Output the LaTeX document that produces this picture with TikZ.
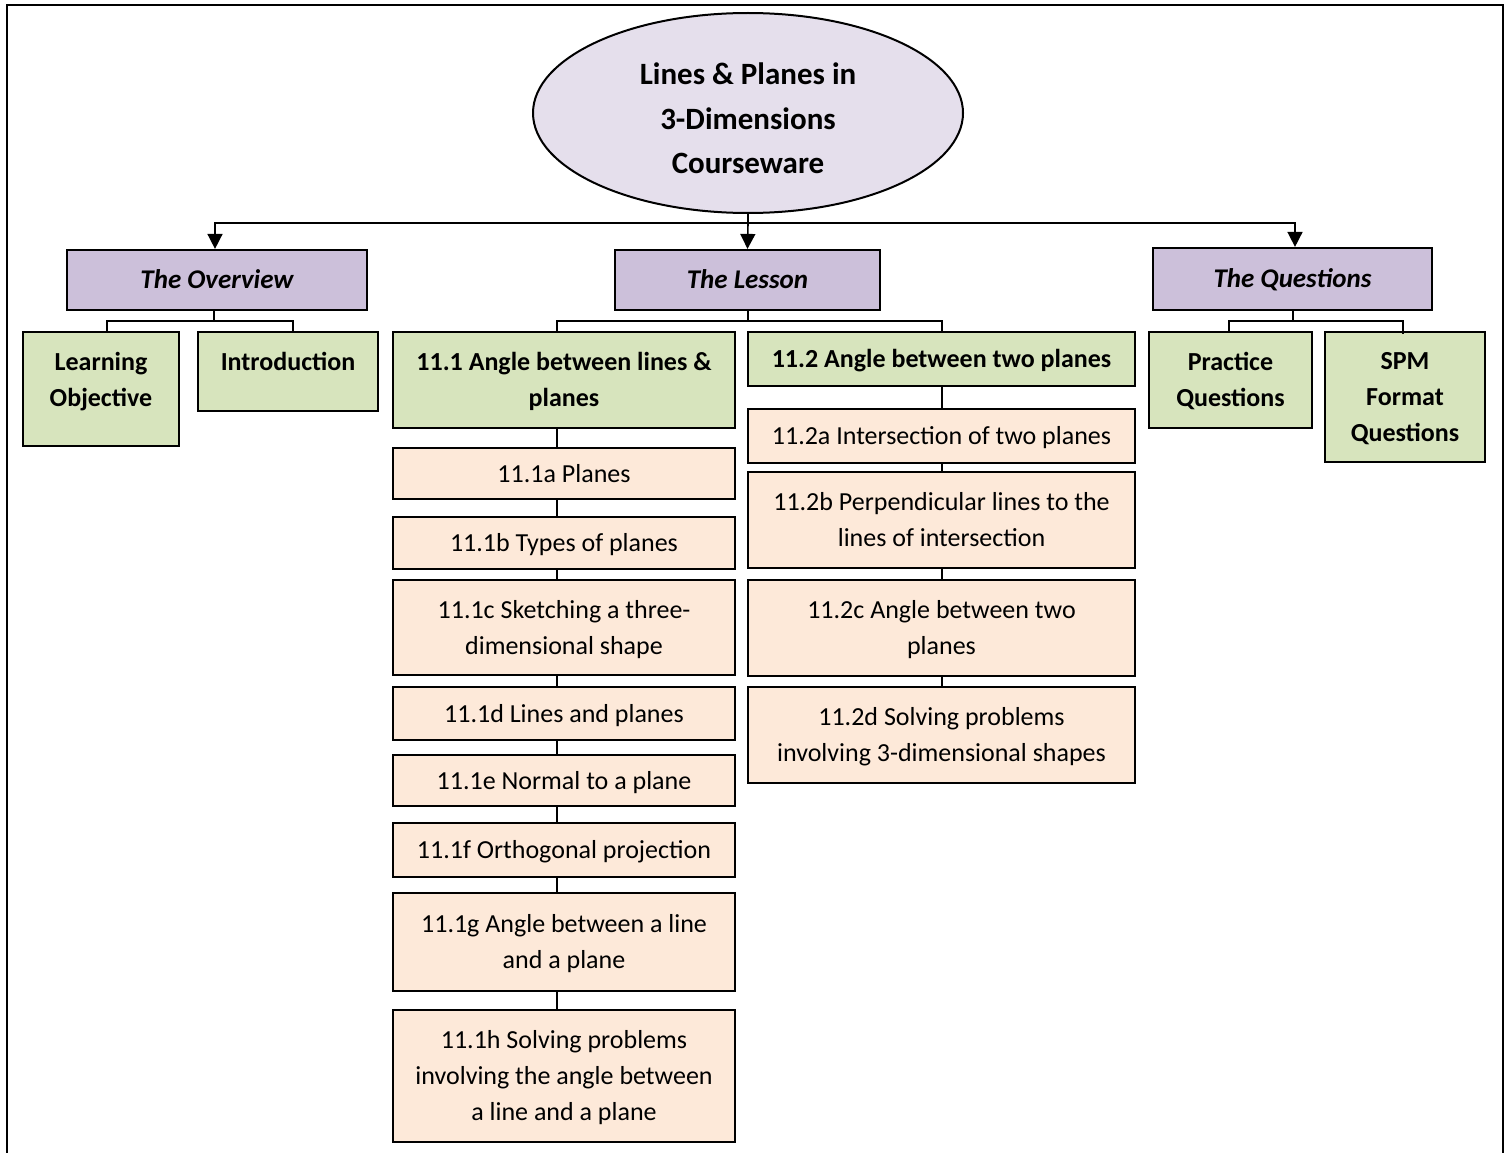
\documentclass[tikz,border=0pt]{standalone}
\usepackage{fontspec}
\setmainfont{Carlito}
\usetikzlibrary{shapes.geometric,arrows.meta}

\definecolor{rootfill}{HTML}{E5DFEC}
\definecolor{headfill}{HTML}{CCC0DA}
\definecolor{topicfill}{HTML}{D7E4BD}
\definecolor{subfill}{HTML}{FDE9D9}

% box given by its corners (left, top, right, bottom), y measured downwards
\newcommand\boxat[7]{%
  \node[#6, minimum width={#4-#2}, minimum height={#5-#3}]
    (#1) at ({(#2+#4)/2},{(#3+#5)/2}) {#7};}

\tikzset{
  box/.style={draw, line width=2.2pt, align=center, inner sep=0pt,
    font=\fontsize{26}{36}\selectfont, oneline},
  % fixed text boxes so every line sits on the same baseline grid
  oneline/.style={text height=17pt, text depth=0pt},
  twolines/.style={text height=53pt, text depth=0pt},
  threelines/.style={text height=89pt, text depth=0pt},
  headbox/.style={box, fill=headfill, font=\fontsize{27}{36}\selectfont\bfseries\itshape},
  topicbox/.style={box, fill=topicfill, font=\fontsize{26}{36}\selectfont\bfseries},
  subbox/.style={box, fill=subfill},
  plaintext/.style={align=center, inner sep=0pt, font=\fontsize{26}{36}\selectfont\bfseries},
  link/.style={line width=1.6pt},
  arr/.style={link, -{Triangle[length=15pt, width=15pt]}},
}

\begin{document}
\begin{tikzpicture}[x=1pt, y=-1pt]
\useasboundingbox (0,0) rectangle (1509,1153);

% page frame, open at the bottom
\draw[line width=2pt] (7,1160) -- (7,5) -- (1503,5) -- (1503,1160);

% root
\node[ellipse, draw, line width=2pt, fill=rootfill, minimum width=430, minimum height=200,
  inner sep=0pt, align=center, text height=121pt, text depth=0pt,
  font=\fontsize{31}{44.5}\selectfont\bfseries]
  (root) at (748,113) {Lines \& Planes in\\3-Dimensions\\Courseware};

% main sections
\boxat{ov}{67}{250}{367}{310}{headbox}{The Overview}
\boxat{les}{615}{250}{880}{310}{headbox}{The Lesson}
\boxat{qu}{1153}{248}{1432}{310}{headbox}{The Questions}

% overview topics (text set at the top of the box)
\boxat{lo}{23}{332}{179}{446}{topicbox}{}
\node[plaintext, twolines] (lotext) at (101,380) {Learning\\Objective};
\boxat{intro}{198}{332}{378}{411}{topicbox}{}
\node[plaintext, oneline] (introtext) at (288,362) {Introduction};

% lesson topics
\boxat{s11}{393}{332}{735}{428}{topicbox, twolines}{11.1 Angle between lines \&\\planes}
\boxat{s12}{748}{332}{1135}{386}{topicbox}{11.2 Angle between two planes}

% question topics
\boxat{pq}{1149}{332}{1312}{428}{topicbox, twolines}{Practice\\Questions}
\boxat{spm}{1325}{332}{1485}{462}{topicbox, threelines}{SPM\\Format\\Questions}

% 11.1 subtopics
\boxat{a1}{393}{448}{735}{499}{subbox}{11.1a Planes}
\boxat{b1}{393}{517}{735}{569}{subbox}{11.1b Types of planes}
\boxat{c1}{393}{580}{735}{675}{subbox, twolines}{11.1c Sketching a three-\\dimensional shape}
\boxat{d1}{393}{687}{735}{740}{subbox}{11.1d Lines and planes}
\boxat{e1}{393}{755}{735}{806}{subbox}{11.1e Normal to a plane}
\boxat{f1}{393}{823}{735}{877}{subbox}{11.1f Orthogonal projection}
\boxat{g1}{393}{893}{735}{991}{subbox, twolines}{11.1g Angle between a line\\and a plane}
\boxat{h1}{393}{1010}{735}{1142}{subbox, threelines}{11.1h Solving problems\\involving the angle between\\a line and a plane}

% 11.2 subtopics
\boxat{a2}{748}{409}{1135}{463}{subbox}{11.2a Intersection of two planes}
\boxat{b2}{748}{472}{1135}{568}{subbox, twolines}{11.2b Perpendicular lines to the\\lines of intersection}
\boxat{c2}{748}{580}{1135}{676}{subbox, twolines}{11.2c Angle between two\\planes}
\boxat{d2}{748}{687}{1135}{783}{subbox, twolines}{11.2d Solving problems\\involving 3-dimensional shapes}

% connector positions
\coordinate (bus) at (748,223);
\coordinate (xov) at (215,0);
\coordinate (xqu) at (1295,0);
\coordinate (xlo) at (107,0);
\coordinate (xin) at (293,0);
\coordinate (xs1) at (557,0);
\coordinate (xs2) at (942,0);
\coordinate (xpq) at (1229,0);
\coordinate (xsp) at (1403,0);
\coordinate (ovj) at (214,321);
\coordinate (lej) at (748,321);
\coordinate (quj) at (1293,321);

% root to sections
\draw[link] (root.south) -- (bus);
\draw[arr] (bus) -| (ov.north -| xov);
\draw[arr] (bus) -- (les.north);
\draw[arr] (bus) -| (qu.north -| xqu);

% sections to topics
\draw[link] (ov.south -| ovj) -- (ovj);
\draw[link] (ovj) -| (lo.north -| xlo);
\draw[link] (ovj) -| (intro.north -| xin);
\draw[link] (les.south -| lej) -- (lej);
\draw[link] (lej) -| (s11.north -| xs1);
\draw[link] (lej) -| (s12.north -| xs2);
\draw[link] (qu.south -| quj) -- (quj);
\draw[link] (quj) -| (pq.north -| xpq);
\draw[link] (quj) -| ([yshift=-3pt]spm.north -| xsp);

% topic chains
\foreach \u/\v in {s11/a1, a1/b1, b1/c1, c1/d1, d1/e1, e1/f1, f1/g1, g1/h1}
  \draw[link] (\u.south -| xs1) -- (\v.north -| xs1);
\foreach \u/\v in {s12/a2, a2/b2, b2/c2, c2/d2}
  \draw[link] (\u.south -| xs2) -- (\v.north -| xs2);
\end{tikzpicture}
\end{document}
